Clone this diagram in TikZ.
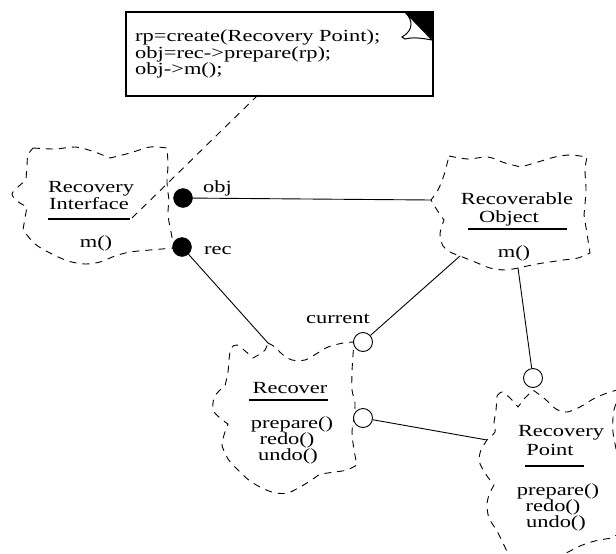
\documentclass[tikz,border=0pt]{standalone}
\usepackage{fontspec}
\newfontfamily\diafont[FakeStretch=1.32]{Liberation Serif}
\begin{document}
\begin{tikzpicture}[x=1pt,y=-1pt,
  lbl/.style={font=\diafont\fontsize{17}{17}\selectfont, inner sep=0pt, anchor=base,
    text height=11pt, text depth=2pt},
  cloud/.style={line width=0.9pt, dash pattern=on 7pt off 6pt, line join=round},
  conn/.style={line width=0.9pt},
  ball/.style={circle, fill=black, draw=black, minimum size=19pt, inner sep=0pt},
  socket/.style={circle, draw=black, fill=white, line width=0.9pt, minimum size=19pt, inner sep=0pt},
  sep/.style={line width=1.2pt},
  notebox/.style={draw=black, line width=1.5pt, fill=white, inner sep=0pt}]
\useasboundingbox (0,0) rectangle (616,554);
\clip (0,0) rectangle (616,554);

% ---- class clouds ----
% Recovery Interface
\draw[cloud] plot[smooth] coordinates {(33,148) (55,149) (75,147) (92,151) (110,158)}
 -- plot[smooth] coordinates {(110,158) (130,153) (150,147) (167,148)}
 -- plot[smooth] coordinates {(167,148) (168,165) (167,182) (169,200)}
 -- plot[smooth] coordinates {(169,200) (168,215) (171,232) (174,248)}
 -- plot[smooth] coordinates {(174,248) (150,250) (130,252) (115,256) (100,262) (85,264) (68,261) (50,253) (35,244) (23,230)}
 -- plot[smooth] coordinates {(23,230) (25,218) (27,207)}
 -- plot[smooth] coordinates {(27,207) (17,201) (12,194) (18,187) (26,180)}
 -- plot[smooth] coordinates {(26,180) (27,165) (28,155) (33,148)} -- cycle;

% Recoverable Object
\draw[cloud] plot[smooth] coordinates {(449,156) (468,159) (488,157) (505,163) (521,167)}
 -- plot[smooth] coordinates {(521,167) (538,162) (555,157) (570,155) (587,157)}
 -- plot[smooth] coordinates {(587,157) (585,170) (586,190) (584,215)}
 -- plot[smooth] coordinates {(584,215) (588,240) (590,253)}
 -- plot[smooth] coordinates {(590,253) (578,258) (563,260) (550,262) (537,264) (518,268)}
 -- plot[smooth] coordinates {(518,268) (505,270) (490,268) (475,262) (460,256)}
 -- plot[smooth] coordinates {(460,256) (450,252) (443,246) (440,234) (444,220)}
 -- plot[smooth] coordinates {(444,220) (437,210) (431,200)}
 -- plot[smooth] coordinates {(431,200) (438,190) (443,178) (446,168) (449,156)} -- cycle;

% Recover
\draw[cloud] plot[smooth] coordinates {(268,343) (275,347) (282,354) (292,360) (305,360) (316,354) (328,347) (343,343) (354,342)}
 -- plot[smooth] coordinates {(354,342) (353,355) (352,372) (352,390) (355,403) (354,418)}
 -- plot[smooth] coordinates {(354,418) (352,432) (354,450) (357,465)}
 -- plot[smooth] coordinates {(357,465) (347,470) (335,472) (320,474)}
 -- plot[smooth] coordinates {(320,474) (310,481) (300,487) (288,493) (276,493) (264,489) (250,481) (238,470) (228,459) (222,446)}
 -- plot[smooth] coordinates {(222,446) (224,435) (228,424)}
 -- plot[smooth] coordinates {(228,424) (220,418) (213,410) (214,398) (219,391) (225,386)}
 -- plot[smooth] coordinates {(225,386) (228,372) (229,360) (231,348) (237,345) (244,350) (253,358)}
 -- plot[smooth] coordinates {(253,358) (260,354) (265,350) (268,343)} -- cycle;

% Recovery Point
\draw[cloud] plot[smooth] coordinates {(497,396) (502,392) (510,398) (518,407)}
 -- plot[smooth] coordinates {(518,407) (525,398) (533,390)}
 -- plot[smooth] coordinates {(533,390) (545,399) (556,409) (567,412) (580,407) (595,398) (610,392) (622,389)}
 -- plot[smooth] coordinates {(622,389) (614,410) (613,432) (618,460) (626,520) (612,538)}
 -- plot[smooth] coordinates {(612,538) (595,541) (580,546) (560,556) (530,568) (510,558)}
 -- plot[smooth] coordinates {(510,558) (503,543) (497,531) (489,518) (487,505) (489,495) (494,485)}
 -- plot[smooth] coordinates {(494,485) (487,476) (482,468) (479,460) (481,450) (487,440)}
 -- plot[smooth] coordinates {(487,440) (495,432) (494,423) (496,410) (497,396)} -- cycle;

% ---- class texts ----
\node[lbl] (riA) at (91,192) {Recovery};
\node[lbl] (riB) at (89,209) {Interface};
\draw[sep] (48,219) -- (130,219);
\node[lbl] (riM) at (96,247) {m()};

\node[lbl] (roA) at (517,204) {Recoverable};
\node[lbl] (roB) at (509,222) {Object};
\draw[sep] (468,229) -- (567,229);
\node[lbl] (roM) at (514,257) {m()};

\node[lbl] (rcA) at (290,393) {Recover};
\draw[sep] (249,400) -- (328,400);
\node[lbl] (rcM1) at (292,428) {prepare()};
\node[lbl] (rcM2) at (287,444) {redo()};
\node[lbl] (rcM3) at (288,460) {undo()};

\node[lbl] (rpA) at (561,436) {Recovery};
\node[lbl] (rpB) at (550,455) {Point};
\draw[sep] (525,466) -- (584,466);
\node[lbl] (rpM1) at (558,495) {prepare()};
\node[lbl] (rpM2) at (553,511) {redo()};
\node[lbl] (rpM3) at (556,527) {undo()};

% ---- attachment points on the clouds ----
\coordinate (roLeft) at (431,200);
\coordinate (roLow) at (460,256);
\coordinate (roBot) at (518,268);
\coordinate (rcTop) at (268,343);
\coordinate (rpLeft) at (487,440);
\coordinate (riEnd) at (132,218);

% ---- note ----
\node[notebox, minimum width=307pt, minimum height=84pt, anchor=north west] (note) at (125,11) {};
\fill (403,11) -- (432,11) -- (432,39) -- cycle;
\draw[line width=1pt, fill=white] (405,12) .. controls (413,20) and (414,30) .. (402,37)
  -- (405,39) .. controls (413,37) and (421,38) .. (432,40) -- cycle;
\node[lbl, anchor=base west] (n1) at (135,41) {rp=create(Recovery Point);};
\node[lbl, anchor=base west] (n2) at (135,58) {obj=rec->prepare(rp);};
\node[lbl, anchor=base west] (n3) at (135,74) {obj->m();};
\coordinate (noteFoot) at (258,95);
\draw[cloud] (noteFoot) -- (riEnd);

% ---- relationship ends ----
\node[ball] (obj) at (183,198) {};
\node[ball] (rec) at (182,247) {};
\node[socket] (cur) at (363,342) {};
\node[socket] (prep) at (363,418) {};
\node[socket] (rpc) at (533,378) {};

\node[lbl, anchor=base west] (objL) at (203,192) {obj};
\node[lbl, anchor=base west] (recL) at (204,254) {rec};
\node[lbl] (curL) at (338,323) {current};

% ---- connectors ----
\draw[conn] (obj) -- (roLeft);
\draw[conn] (rec) -- (rcTop);
\draw[conn] (roLow) -- (cur);
\draw[conn] (roBot) -- (rpc);
\draw[conn] (prep) -- (rpLeft);
\end{tikzpicture}
\end{document}
